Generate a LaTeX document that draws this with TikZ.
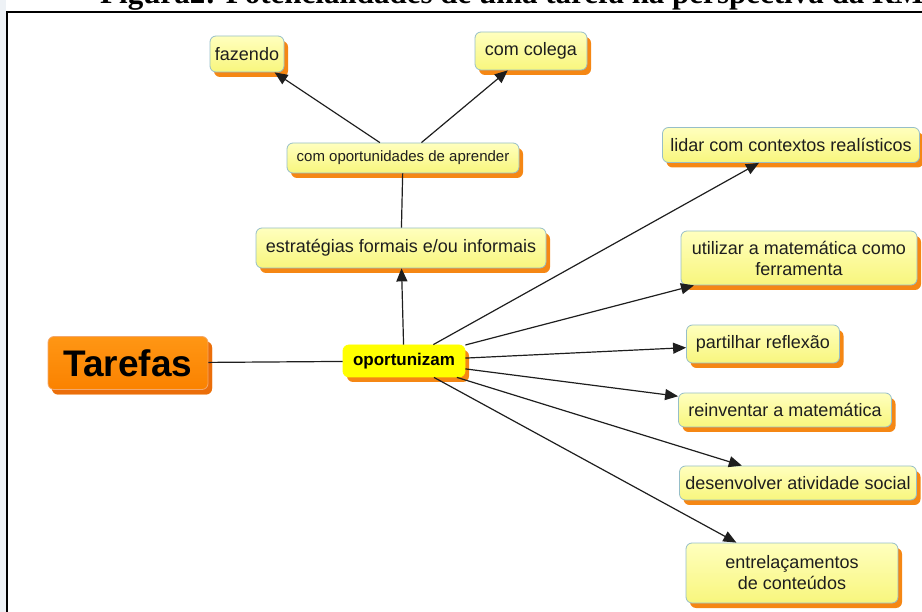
\documentclass[tikz,border=0pt]{standalone}
\usepackage{fontspec}
\setmainfont{Liberation Sans}
\newfontfamily\titlefont{Liberation Serif}
\usetikzlibrary{shadows,arrows.meta}
\definecolor{boxborder}{RGB}{150,190,200}
\definecolor{boxtop}{RGB}{255,255,190}
\definecolor{boxbot}{RGB}{248,246,125}
\definecolor{shadoworange}{RGB}{245,135,20}
\definecolor{tartop}{RGB}{255,150,20}
\definecolor{tarbot}{RGB}{250,130,0}
\definecolor{tarshadow}{RGB}{235,110,10}
\definecolor{opfill}{RGB}{255,255,0}
\definecolor{textc}{RGB}{30,30,30}
\definecolor{sidegray}{RGB}{238,242,246}
\tikzset{
  box/.style={draw=boxborder, line width=0.8pt, rounded corners=6pt,
    top color=boxtop, bottom color=boxbot, text=textc, align=center,
    inner sep=0pt, font=\fontsize{18}{21}\selectfont,
    drop shadow={shadow xshift=4pt, shadow yshift=-5pt, fill=shadoworange, opacity=1}},
  conn/.style={draw=textc, line width=1.2pt},
  arr/.style={conn, -{Triangle[length=13pt,width=11pt]}},
}
\begin{document}
\begin{tikzpicture}[x=1pt,y=-1pt]
\useasboundingbox (0,0) rectangle (922,612);
\begin{scope}
\clip (0,0) rectangle (922,612);
\fill[sidegray] (0,0) rectangle (6,612);
\fill[white] (6,0) rectangle (922,12);
\node[anchor=base west, font=\titlefont\bfseries\fontsize{31}{34}\selectfont, inner sep=0pt, text=black] (title) at (100,4) {Figura2: Potencialidades de uma tarefa na perspectiva da RME};
\draw[line width=1.6pt, black] (6.8,640) -- (6.8,12) -- (940,12);

\node[box, minimum width=74pt, minimum height=36pt] (faz) at (247,54) {fazendo};
\node[box, minimum width=112pt, minimum height=38pt] (col) at (531,51) {com colega};
\node[box, minimum width=232pt, minimum height=30pt, font=\fontsize{15}{18}\selectfont] (coa) at (403,158) {com oportunidades de aprender};
\node[box, minimum width=290pt, minimum height=40pt] (est) at (401,248) {estratégias formais e/ou informais};
\node[box, minimum width=160pt, minimum height=53pt, draw=tarshadow!60, top color=tartop, bottom color=tarbot,
  font=\bfseries\fontsize{37}{40}\selectfont, text=black,
  drop shadow={shadow xshift=4pt, shadow yshift=-5pt, fill=tarshadow, opacity=1}] (tar) at (128,363) {Tarefas};
\node[box, minimum width=122pt, minimum height=32pt, draw=opfill, top color=opfill, bottom color=opfill,
  font=\bfseries\fontsize{17}{20}\selectfont, text=black] (op) at (404,361) {oportunizam};
\node[box, minimum width=257pt, minimum height=35pt] (lid) at (791,145) {lidar com contextos realísticos};
\node[box, minimum width=236pt, minimum height=54pt] (uti) at (799,258) {utilizar a matemática como\\ferramenta};
\node[box, minimum width=153pt, minimum height=38pt] (par) at (763,344) {partilhar reflexão};
\node[box, minimum width=213pt, minimum height=34pt] (rei) at (785,410) {reinventar a matemática};
\node[box, minimum width=237pt, minimum height=34pt] (des) at (798,483) {desenvolver atividade social};
\node[box, minimum width=212pt, minimum height=60pt] (ent) at (792,573) {entrelaçamentos\\de conteúdos};

\draw[conn] (tar) -- (op);
\draw[arr] (op) -- (est);
\draw[conn] (est) -- (coa);
\draw[arr] (coa) -- (faz);
\draw[arr] (coa) -- (col);
\draw[arr] (op) -- (lid);
\draw[arr] (op) -- (uti);
\draw[arr] (op) -- (par);
\draw[arr] (op) -- (rei);
\draw[arr] (op) -- (des);
\draw[arr] (op) -- (ent);
\end{scope}
\end{tikzpicture}
\end{document}
